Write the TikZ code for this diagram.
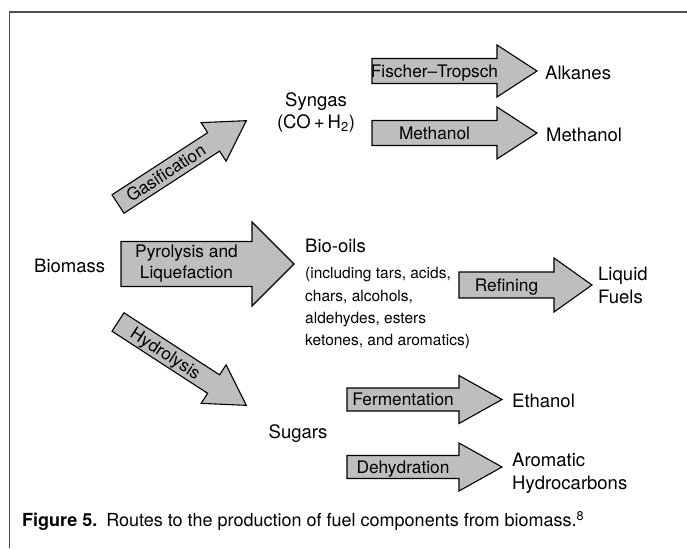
\documentclass[tikz,border=0pt]{standalone}
\usepackage{fontspec}
\setmainfont{TeX Gyre Heros}
\definecolor{arrowgray}{RGB}{190,190,190}
\definecolor{framegray}{RGB}{80,80,80}
\tikzset{
  barrowshape/.style={draw=black, fill=arrowgray, line width=1.1pt, line join=miter},
  alabel/.style={font=\fontsize{17.3}{20.8}\selectfont, inner sep=0pt, text height=12.4pt, text depth=0pt},
  alabeltwo/.style={font=\fontsize{17.3}{21}\selectfont, inner sep=0pt, align=center},
  tlabel/.style={font=\fontsize{18.5}{22}\selectfont, inner sep=0pt, text height=13.3pt, text depth=0pt},
  slabel/.style={font=\fontsize{15.5}{22}\selectfont, inner sep=0pt, text height=11.2pt, text depth=0pt, anchor=west},
  caplabel/.style={font=\fontsize{18}{22}\selectfont, inner sep=0pt, text height=13pt, text depth=0pt, anchor=west},
  framestyle/.style={draw=framegray, line width=1.6pt},
}
% #1 name, #2 tail centre, #3 angle, #4 length, #5 body width, #6 head width, #7 head length
\newcommand\blockarrow[7]{%
  \begin{scope}[shift={#2}, rotate=#3]
    \draw[barrowshape] (0,-#5/2) -- ({#4-#7},-#5/2) -- ({#4-#7},-#6/2) -- (#4,0)
      -- ({#4-#7},#6/2) -- ({#4-#7},#5/2) -- (0,#5/2) -- cycle;
    \coordinate (#1-c) at ({(#4-#7)/2},0);
    \coordinate (#1-tip) at (#4,0);
  \end{scope}}
\begin{document}
\begin{tikzpicture}[x=1pt,y=1pt]
  \useasboundingbox (0,0) rectangle (687,-548);
  % frame
  \coordinate (frTR) at (687,-12);
  \coordinate (frTL) at (9.5,-12);
  \coordinate (frBL) at (9.5,-548);
  \draw[framestyle] (frTR) -- (frTL) -- (frBL);

  % syngas branch
  \node[tlabel] (syngas) at (316,-100) {Syngas};
  \node[tlabel] (co) at (316,-122) {(CO\,+\,H\textsubscript{2})};
  \blockarrow{ft}{(372,-71)}{0}{165}{25}{52}{40}
  \node[alabel] (ftl) at (ft-c) {Fischer–Tropsch};
  \node[tlabel, anchor=west] (alkanes) at (545,-73) {Alkanes};
  \blockarrow{me}{(372,-133)}{0}{165}{25}{52}{40}
  \node[alabel] (mel) at (me-c) {Methanol};
  \node[tlabel, anchor=west] (methanol) at (546,-135) {Methanol};

  % gasification
  \blockarrow{ga}{(118,-204)}{33}{153}{22}{46}{39}
  \node[alabel, rotate=33] (gal) at (ga-c) {Gasification};

  % biomass and pyrolysis
  \node[tlabel, anchor=west] (biomass) at (34,-266) {Biomass};
  \blockarrow{py}{(121,-264)}{0}{173}{45}{84}{42}
  \node[alabeltwo] (pyl) at (py-c) {Pyrolysis and\\Liquefaction};
  \node[tlabel, anchor=west] (biooils) at (305,-246) {Bio-oils};
  \node[slabel] (l1) at (305,-273) {(including tars, acids,};
  \node[slabel] (l2) at (305,-296) {chars, alcohols,};
  \node[slabel] (l3) at (305,-318) {aldehydes, esters};
  \node[slabel] (l4) at (305,-340) {ketones, and aromatics)};
  \blockarrow{re}{(459,-285)}{0}{133}{26}{54}{38}
  \node[alabel] (rel) at (re-c) {Refining};
  \node[tlabel, anchor=west] (liquid) at (598,-274) {Liquid};
  \node[tlabel, anchor=west] (fuels) at (598,-297) {Fuels};

  % hydrolysis
  \blockarrow{hy}{(118,-322)}{-33}{153}{22}{46}{39}
  \node[alabel, rotate=-33] (hyl) at (hy-c) {Hydrolysis};
  \node[tlabel] (sugars) at (298,-432) {Sugars};
  \blockarrow{fe}{(347,-399.5)}{0}{155}{23}{48}{43}
  \node[alabel] (fel) at (fe-c) {Fermentation};
  \node[tlabel, anchor=west] (ethanol) at (512,-401) {Ethanol};
  \blockarrow{de}{(347,-467)}{0}{155}{23}{48}{43}
  \node[alabel] (del) at (de-c) {Dehydration};
  \node[tlabel, anchor=west] (aromatic) at (512,-460) {Aromatic};
  \node[tlabel, anchor=west] (hydrocarbons) at (512,-483) {Hydrocarbons};

  % caption
  \node[caplabel] (caption) at (22,-520) {\textbf{Figure 5.}\enspace Routes to the production of fuel components from biomass.\textsuperscript{8}};
\end{tikzpicture}
\end{document}
